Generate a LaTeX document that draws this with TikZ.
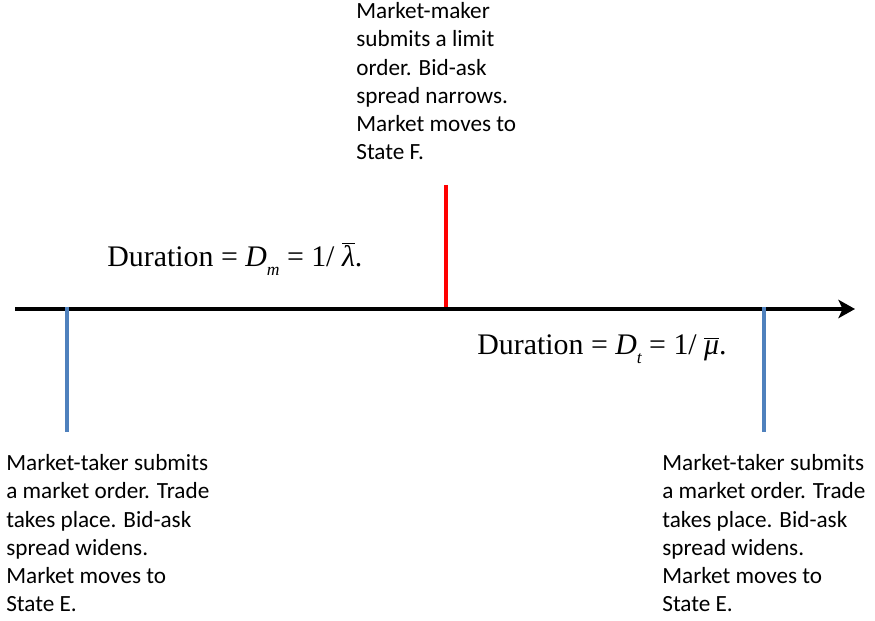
\documentclass[tikz,border=0pt]{standalone}
\usepackage{fontspec}
\setmainfont{Carlito}
\newfontfamily\eqfont{Liberation Serif}
\usepackage{tikz}
\usetikzlibrary{arrows.meta, positioning}
\definecolor{mBlue}{HTML}{4F81BD}
\definecolor{mRed}{HTML}{FF0000}
\tikzset{
  note/.style={anchor=north west, inner sep=0pt, align=left, font=\fontsize{13.2}{16.1}\selectfont},
  dur/.style={anchor=base west, inner sep=0pt, font=\eqfont\fontsize{17}{20}\selectfont},
  eventline/.style={line width=2.4pt},
}
\newcommand{\lowsub}[1]{\raisebox{-0.6ex}{\fontsize{10}{10}\selectfont\itshape #1}}

\begin{document}
\begin{tikzpicture}[x=0.02cm, y=-0.02cm]
    \useasboundingbox (0,0) rectangle (875,621);
    % time axis and events
    \coordinate (start) at (15,309);
    \coordinate (end) at (855,309);
    \coordinate (makerTop) at (446,185);
    \coordinate (makerFoot) at (446,309);
    \coordinate (takerA) at (67,307);
    \coordinate (takerB) at (764,307);
    \draw[eventline, mRed] (makerTop) -- (makerFoot);
    \draw[line width=2.7pt, -{Stealth[length=9.5pt, width=10.5pt, inset=2.5pt]}] (start) -- (end);
    \foreach \p in {takerA, takerB} {
      \draw[eventline, mBlue] (\p) -- ++(0,125);
    }
    % texts
    \node[note] (makerText) at (356,2) {Market-maker\\submits a limit\\order. Bid-ask\\spread narrows.\\Market moves to\\State F.};
    \node[note] (takerTextA) at (6,454) {Market-taker submits\\a market order. Trade\\takes place. Bid-ask\\spread widens.\\Market moves to\\State E.};
    \node[note] (takerTextB) at (662,454) {Market-taker submits\\a market order. Trade\\takes place. Bid-ask\\spread widens.\\Market moves to\\State E.};
    \node[dur] (durMaker) at (107,267) {Duration = \textit{D}\lowsub{m} = 1/ $\overline{\mbox{\itshape λ}}$.};
    \node[dur] (durTaker) at (477,355) {Duration = \textit{D}\lowsub{t} = 1/ $\overline{\mbox{\itshape μ}}$.};
\end{tikzpicture}
\end{document}
